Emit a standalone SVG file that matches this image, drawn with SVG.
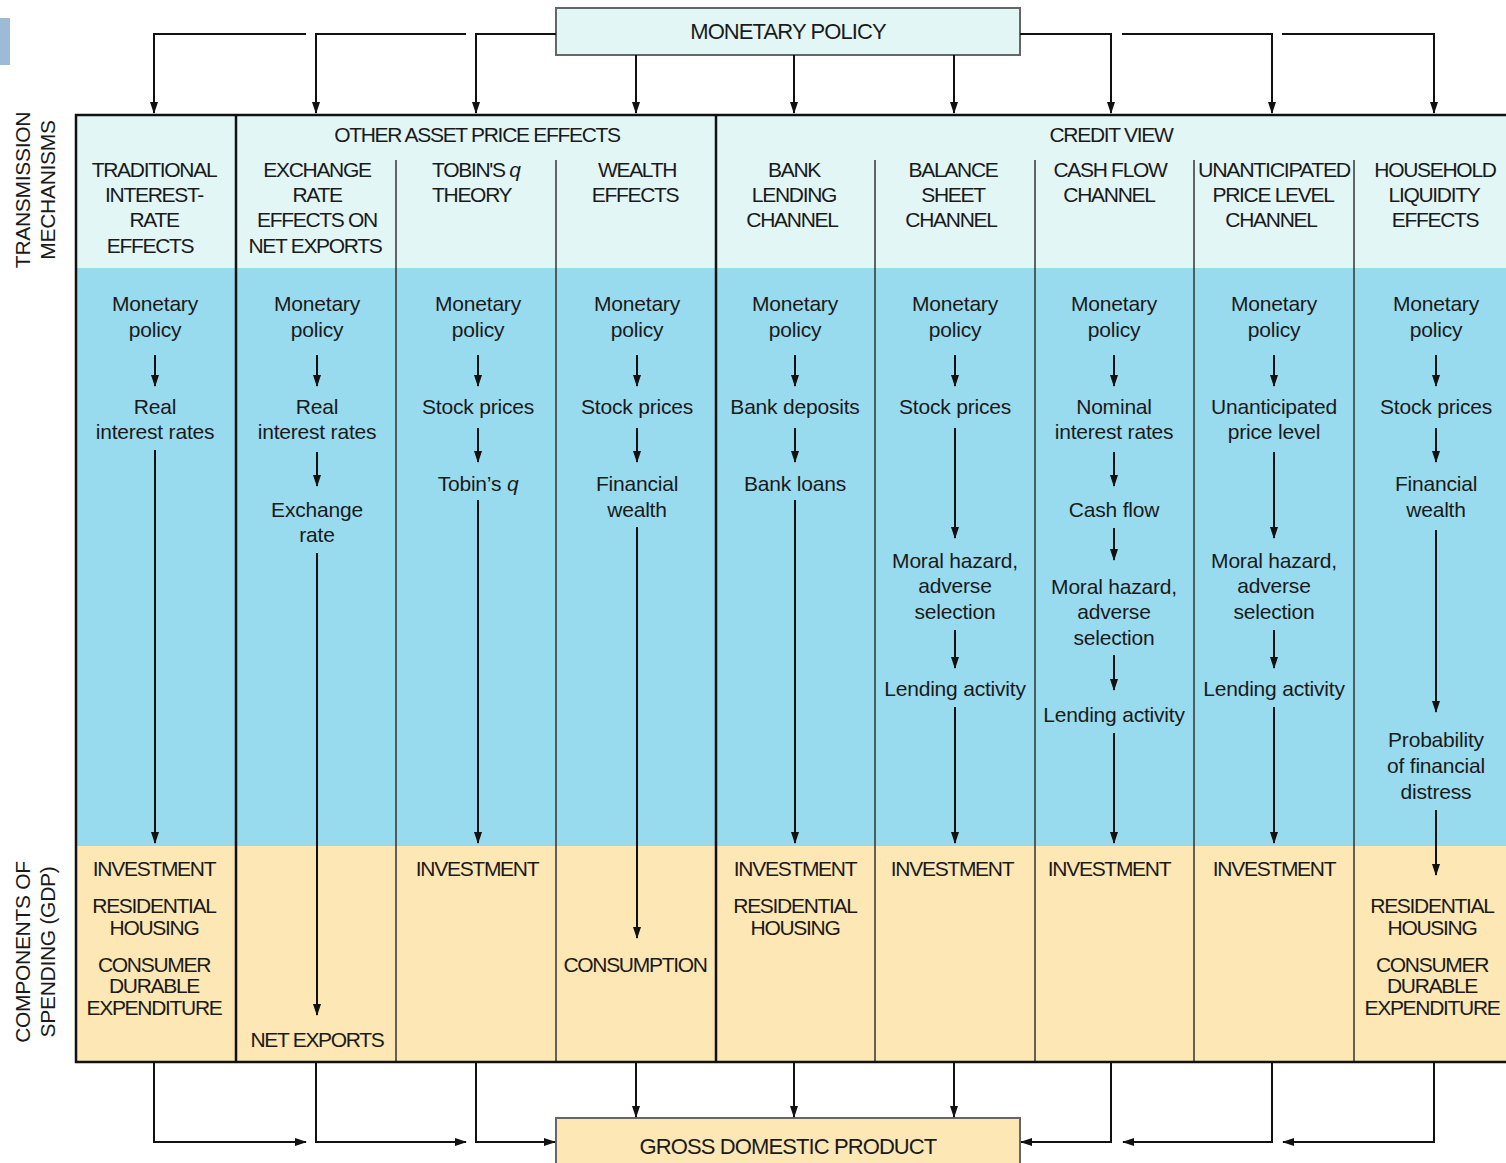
<svg xmlns="http://www.w3.org/2000/svg" width="1506" height="1163" viewBox="0 0 1506 1163">
<defs>
<marker id="ah" markerUnits="userSpaceOnUse" markerWidth="12" markerHeight="8" refX="11" refY="4" orient="auto">
<path d="M0,0 L12,4 L0,8 z" fill="#111"/>
</marker>
<style>
.cap{font-family:"Liberation Sans",Arial,sans-serif;font-size:21px;letter-spacing:-1.3px;fill:#1a1a1a;text-anchor:middle}
.big{font-family:"Liberation Sans",Arial,sans-serif;font-size:22px;letter-spacing:-0.9px;fill:#1a1a1a;text-anchor:middle}
.txt{font-family:"Liberation Sans",Arial,sans-serif;font-size:21px;letter-spacing:-0.2px;fill:#1a1a1a;text-anchor:middle}
.side{font-family:"Liberation Sans",Arial,sans-serif;font-size:21px;letter-spacing:-0.3px;fill:#1a1a1a;text-anchor:middle}
.conn{fill:none;stroke:#111;stroke-width:2.2}
.arr{fill:none;stroke:#111;stroke-width:2;marker-end:url(#ah)}
.thin{stroke:#333;stroke-width:1.5}
.thick{stroke:#111;stroke-width:2.5}
</style>
</defs>
<rect x="0" y="18" width="10" height="47" fill="#9dbad6"/>

<g id="monetary-policy">
<rect x="556" y="8" width="464" height="47" fill="#e2f6f6" stroke="#666" stroke-width="2"/>
<text class="big" x="788" y="39">MONETARY POLICY</text>
</g>

<g id="table">
<rect x="76" y="115" width="1432" height="153" fill="#e2f6f6"/>
<rect x="76" y="268" width="1432" height="578" fill="#98dbee"/>
<rect x="76" y="846" width="1432" height="216" fill="#fde7b4"/>
<line class="thin" x1="396" y1="160" x2="396" y2="1062"/>
<line class="thin" x1="556" y1="160" x2="556" y2="1062"/>
<line class="thin" x1="875" y1="160" x2="875" y2="1062"/>
<line class="thin" x1="1035" y1="160" x2="1035" y2="1062"/>
<line class="thin" x1="1194" y1="160" x2="1194" y2="1062"/>
<line class="thin" x1="1354" y1="160" x2="1354" y2="1062"/>
<line class="thick" x1="236" y1="115" x2="236" y2="1062"/>
<line class="thick" x1="716" y1="115" x2="716" y2="1062"/>
<rect x="76" y="115" width="1432" height="947" fill="none" stroke="#111" stroke-width="2.5"/>
<text class="cap" x="477" y="142">OTHER ASSET PRICE EFFECTS</text>
<text class="cap" x="1111" y="142">CREDIT VIEW</text>
</g>

<g id="side-labels">
<g transform="translate(0,190) rotate(-90)">
<text class="side" x="0" y="30">TRANSMISSION</text>
<text class="side" x="0" y="55">MECHANISMS</text>
</g>
<g transform="translate(0,952) rotate(-90)">
<text class="side" x="0" y="30">COMPONENTS OF</text>
<text class="side" x="0" y="55">SPENDING (GDP)</text>
</g>
</g>

<g id="col-traditional">
<text class="cap" x="154" y="177">TRADITIONAL</text>
<text class="cap" x="154" y="202">INTEREST-</text>
<text class="cap" x="154" y="227">RATE</text>
<text class="cap" x="150" y="253">EFFECTS</text>
<text class="txt" x="155" y="311">Monetary</text>
<text class="txt" x="155" y="337">policy</text>
<text class="txt" x="155" y="414">Real</text>
<text class="txt" x="155" y="439">interest rates</text>
<text class="cap" x="154" y="876">INVESTMENT</text>
<text class="cap" x="154" y="913">RESIDENTIAL</text>
<text class="cap" x="154" y="935">HOUSING</text>
<text class="cap" x="154" y="972">CONSUMER</text>
<text class="cap" x="154" y="993">DURABLE</text>
<text class="cap" x="154" y="1015">EXPENDITURE</text>
</g>

<g id="col-exchange">
<text class="cap" x="317" y="177">EXCHANGE</text>
<text class="cap" x="317" y="202">RATE</text>
<text class="cap" x="317" y="227">EFFECTS ON</text>
<text class="cap" x="315" y="253">NET EXPORTS</text>
<text class="txt" x="317" y="311">Monetary</text>
<text class="txt" x="317" y="337">policy</text>
<text class="txt" x="317" y="414">Real</text>
<text class="txt" x="317" y="439">interest rates</text>
<text class="txt" x="317" y="517">Exchange</text>
<text class="txt" x="317" y="542">rate</text>
<text class="cap" x="317" y="1047">NET EXPORTS</text>
</g>

<g id="col-tobin">
<text class="cap" x="432" y="177" style="text-anchor:start">TOBIN'S <tspan font-style="italic">q</tspan></text>
<text class="cap" x="432" y="202" style="text-anchor:start">THEORY</text>
<text class="txt" x="478" y="311">Monetary</text>
<text class="txt" x="478" y="337">policy</text>
<text class="txt" x="478" y="414">Stock prices</text>
<text class="txt" x="478" y="491">Tobin’s <tspan font-style="italic">q</tspan></text>
<text class="cap" x="477" y="876">INVESTMENT</text>
</g>

<g id="col-wealth">
<text class="cap" x="637" y="177">WEALTH</text>
<text class="cap" x="635" y="202">EFFECTS</text>
<text class="txt" x="637" y="311">Monetary</text>
<text class="txt" x="637" y="337">policy</text>
<text class="txt" x="637" y="414">Stock prices</text>
<text class="txt" x="637" y="491">Financial</text>
<text class="txt" x="637" y="517">wealth</text>
<text class="cap" x="635" y="972">CONSUMPTION</text>
</g>

<g id="col-bank-lending">
<text class="cap" x="794" y="177">BANK</text>
<text class="cap" x="794" y="202">LENDING</text>
<text class="cap" x="792" y="227">CHANNEL</text>
<text class="txt" x="795" y="311">Monetary</text>
<text class="txt" x="795" y="337">policy</text>
<text class="txt" x="795" y="414">Bank deposits</text>
<text class="txt" x="795" y="491">Bank loans</text>
<text class="cap" x="795" y="876">INVESTMENT</text>
<text class="cap" x="795" y="913">RESIDENTIAL</text>
<text class="cap" x="795" y="935">HOUSING</text>
</g>

<g id="col-balance-sheet">
<text class="cap" x="953" y="177">BALANCE</text>
<text class="cap" x="953" y="202">SHEET</text>
<text class="cap" x="951" y="227">CHANNEL</text>
<text class="txt" x="955" y="311">Monetary</text>
<text class="txt" x="955" y="337">policy</text>
<text class="txt" x="955" y="414">Stock prices</text>
<text class="txt" x="955" y="568">Moral hazard,</text>
<text class="txt" x="955" y="593">adverse</text>
<text class="txt" x="955" y="619">selection</text>
<text class="txt" x="955" y="696">Lending activity</text>
<text class="cap" x="952" y="876">INVESTMENT</text>
</g>

<g id="col-cash-flow">
<text class="cap" x="1110" y="177">CASH FLOW</text>
<text class="cap" x="1109" y="202">CHANNEL</text>
<text class="txt" x="1114" y="311">Monetary</text>
<text class="txt" x="1114" y="337">policy</text>
<text class="txt" x="1114" y="414">Nominal</text>
<text class="txt" x="1114" y="439">interest rates</text>
<text class="txt" x="1114" y="517">Cash flow</text>
<text class="txt" x="1114" y="594">Moral hazard,</text>
<text class="txt" x="1114" y="619">adverse</text>
<text class="txt" x="1114" y="645">selection</text>
<text class="txt" x="1114" y="722">Lending activity</text>
<text class="cap" x="1109" y="876">INVESTMENT</text>
</g>

<g id="col-unanticipated">
<text class="cap" x="1274" y="177" textLength="152" lengthAdjust="spacingAndGlyphs">UNANTICIPATED</text>
<text class="cap" x="1273" y="202">PRICE LEVEL</text>
<text class="cap" x="1271" y="227">CHANNEL</text>
<text class="txt" x="1274" y="311">Monetary</text>
<text class="txt" x="1274" y="337">policy</text>
<text class="txt" x="1274" y="414">Unanticipated</text>
<text class="txt" x="1274" y="439">price level</text>
<text class="txt" x="1274" y="568">Moral hazard,</text>
<text class="txt" x="1274" y="593">adverse</text>
<text class="txt" x="1274" y="619">selection</text>
<text class="txt" x="1274" y="696">Lending activity</text>
<text class="cap" x="1274" y="876">INVESTMENT</text>
</g>

<g id="col-household">
<text class="cap" x="1435" y="177">HOUSEHOLD</text>
<text class="cap" x="1434" y="202">LIQUIDITY</text>
<text class="cap" x="1435" y="227">EFFECTS</text>
<text class="txt" x="1436" y="311">Monetary</text>
<text class="txt" x="1436" y="337">policy</text>
<text class="txt" x="1436" y="414">Stock prices</text>
<text class="txt" x="1436" y="491">Financial</text>
<text class="txt" x="1436" y="517">wealth</text>
<text class="txt" x="1436" y="747">Probability</text>
<text class="txt" x="1436" y="773">of financial</text>
<text class="txt" x="1436" y="799">distress</text>
<text class="cap" x="1432" y="913">RESIDENTIAL</text>
<text class="cap" x="1432" y="935">HOUSING</text>
<text class="cap" x="1432" y="972">CONSUMER</text>
<text class="cap" x="1432" y="993">DURABLE</text>
<text class="cap" x="1432" y="1015">EXPENDITURE</text>
</g>

<g id="gdp">
<rect x="556" y="1118" width="464" height="50" fill="#fde7b4" stroke="#666" stroke-width="2"/>
<text class="big" x="788" y="1154">GROSS DOMESTIC PRODUCT</text>
</g>

<g id="connectors">
<path class="arr" d="M306,34 H154 V113"/>
<path class="arr" d="M466,34 H316 V113"/>
<path class="arr" d="M556,34 H476 V113"/>
<path class="arr" d="M636,55 V113"/>
<path class="arr" d="M794,55 V113"/>
<path class="arr" d="M954,55 V113"/>
<path class="arr" d="M1020,34 H1111 V113"/>
<path class="arr" d="M1122,34 H1272 V113"/>
<path class="arr" d="M1282,34 H1434 V113"/>

<path class="arr" d="M155,355 V386"/>
<path class="arr" d="M155,450 V843"/>
<path class="arr" d="M317,355 V386"/>
<path class="arr" d="M317,452 V486"/>
<path class="arr" d="M317,553 V1015"/>
<path class="arr" d="M478,355 V386"/>
<path class="arr" d="M478,428 V462"/>
<path class="arr" d="M478,500 V843"/>
<path class="arr" d="M637,355 V386"/>
<path class="arr" d="M637,428 V462"/>
<path class="arr" d="M637,527 V938"/>
<path class="arr" d="M795,355 V386"/>
<path class="arr" d="M795,428 V462"/>
<path class="arr" d="M795,500 V843"/>
<path class="arr" d="M955,355 V386"/>
<path class="arr" d="M955,428 V538"/>
<path class="arr" d="M955,630 V668"/>
<path class="arr" d="M955,707 V843"/>
<path class="arr" d="M1114,355 V386"/>
<path class="arr" d="M1114,452 V486"/>
<path class="arr" d="M1114,528 V560"/>
<path class="arr" d="M1114,655 V690"/>
<path class="arr" d="M1114,733 V843"/>
<path class="arr" d="M1274,355 V386"/>
<path class="arr" d="M1274,452 V538"/>
<path class="arr" d="M1274,630 V668"/>
<path class="arr" d="M1274,707 V843"/>
<path class="arr" d="M1436,355 V386"/>
<path class="arr" d="M1436,428 V462"/>
<path class="arr" d="M1436,530 V712"/>
<path class="arr" d="M1436,810 V875"/>

<path class="arr" d="M154,1062 V1142 H306"/>
<path class="arr" d="M316,1062 V1142 H466"/>
<path class="arr" d="M476,1062 V1142 H555"/>
<path class="arr" d="M636,1062 V1117"/>
<path class="arr" d="M794,1062 V1117"/>
<path class="arr" d="M954,1062 V1117"/>
<path class="arr" d="M1111,1062 V1142 H1021"/>
<path class="arr" d="M1272,1062 V1142 H1123"/>
<path class="arr" d="M1434,1062 V1142 H1283"/>
</g>
</svg>
